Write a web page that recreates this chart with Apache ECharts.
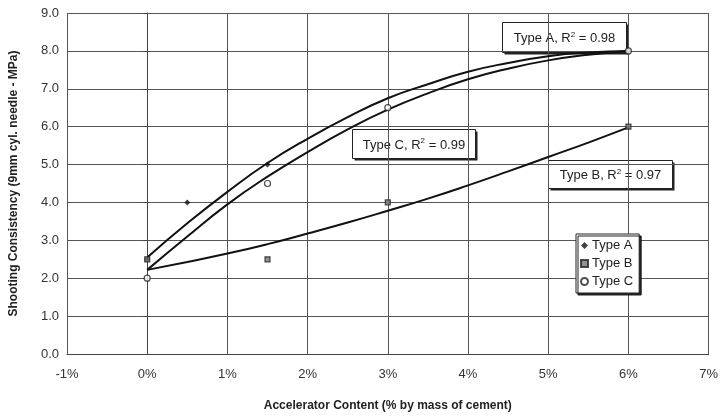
<!DOCTYPE html>
<html>
<head>
<meta charset="utf-8">
<script src="https://cdn.jsdelivr.net/npm/echarts@6/dist/echarts.min.js"></script>
<style>
  html, body { margin: 0; padding: 0; background: #fff; }
  #main { width: 721px; height: 417px; }
</style>
</head>
<body>
<div id="main"></div>
<script>
// measured points (accelerator %, consistency MPa)
var typeA = [[0, 2.5], [0.5, 4.0], [1.5, 5.0], [6, 8.0]];
var typeB = [[0, 2.5], [1.5, 2.5], [3, 4.0], [6, 6.0]];
var typeC = [[0, 2.0], [1.5, 4.5], [3, 6.5], [6, 8.0]];

// trend curves
var trendX = [0, 0.5, 1, 1.5, 2, 2.5, 3, 3.5, 4, 4.5, 5, 5.5, 6];
var trendA = [2.55, 3.45, 4.28, 5.04, 5.68, 6.25, 6.75, 7.12, 7.45, 7.68, 7.86, 7.96, 8.0];
var trendB = [2.22, 2.43, 2.65, 2.9, 3.18, 3.47, 3.78, 4.1, 4.45, 4.82, 5.2, 5.58, 5.98];
var trendC = [2.22, 3.1, 3.95, 4.68, 5.33, 5.93, 6.45, 6.88, 7.25, 7.53, 7.75, 7.9, 8.0];

var xTicks = [-1, 0, 1, 2, 3, 4, 5, 6, 7];
var yTicks = [0, 1, 2, 3, 4, 5, 6, 7, 8, 9];

function pairs(xs, ys) {
    return xs.map(function (x, i) { return [x, ys[i]]; });
}

var font = 'Liberation Sans, Arial, sans-serif';

function noteBox(x, y, w, h, label) {
    return {
        type: 'group',
        left: x,
        top: y,
        children: [{
            type: 'rect',
            shape: { x: 2, y: 2, width: w, height: h },
            style: { fill: '#222' }
        }, {
            type: 'rect',
            shape: { x: 0, y: 0, width: w, height: h },
            style: { fill: '#fff', stroke: '#222', lineWidth: 1 }
        }, {
            type: 'text',
            x: w / 2,
            y: h / 2 + 1,
            style: {
                rich: { sup: { fontSize: 8, verticalAlign: 'top', padding: [0, 0, 8, 0], fill: '#222', fontFamily: font } },
                text: label,
                fontSize: 13,
                fontFamily: font,
                fill: '#222',
                align: 'center',
                verticalAlign: 'middle'
            }
        }]
    };
}

var lineStyle = { color: '#111', width: 2 };

var option = {
    animation: false,
    backgroundColor: '#fff',
    grid: { left: 67, right: 9, top: 13, bottom: 62 },
    xAxis: {
        type: 'value',
        min: -1,
        max: 7,
        interval: 1,
        name: 'Accelerator Content (% by mass of cement)',
        nameLocation: 'middle',
        nameGap: 46,
        nameTextStyle: { fontFamily: font, fontSize: 12, fontWeight: 'bold', color: '#222' },
        axisLine: { onZero: false, lineStyle: { color: '#444' } },
        axisTick: { show: false },
        axisLabel: {
            fontFamily: font, fontSize: 13, color: '#333', margin: 14,
            formatter: function (v) { return xTicks.indexOf(v) >= 0 ? v + '%' : ''; }
        },
        splitLine: { lineStyle: { color: '#555', width: 1 } }
    },
    yAxis: {
        type: 'value',
        min: 0,
        max: 9,
        interval: 1,
        name: 'Shooting Consistency (9mm cyl. needle - MPa)',
        nameLocation: 'middle',
        nameGap: 47,
        nameTextStyle: { fontFamily: font, fontSize: 12, fontWeight: 'bold', color: '#222' },
        axisLine: { show: true, lineStyle: { color: '#444' } },
        axisTick: { show: true, length: 4, lineStyle: { color: '#444' } },
        axisLabel: {
            fontFamily: font, fontSize: 13, color: '#333', margin: 8,
            formatter: function (v) { return yTicks.indexOf(v) >= 0 ? v.toFixed(1) : ''; }
        },
        splitLine: { lineStyle: { color: '#555', width: 1 } }
    },
    legend: {
        orient: 'vertical',
        left: 576,
        top: 234,
        padding: [5, 6, 5, 4],
        itemGap: 5,
        itemWidth: 7,
        itemHeight: 14,
        backgroundColor: '#fff',
        borderColor: '#222',
        borderWidth: 1,
        shadowColor: '#222',
        shadowOffsetX: 2,
        shadowOffsetY: 2,
        textStyle: { fontFamily: font, fontSize: 13, color: '#222', padding: [0, 0, 0, -1] },
        data: [
            { name: 'Type A', itemStyle: { color: '#111' }, icon: 'path://M0,4 L4,0 L8,4 L4,8 Z' },
            { name: 'Type B', icon: 'path://M0,0 L8,0 L8,8 L0,8 Z' },
            { name: 'Type C', icon: 'circle' }
        ]
    },
    graphic: [
        noteBox(502, 22, 124, 30, 'Type A, R{sup|2} = 0.98'),
        noteBox(352, 129, 123, 29, 'Type C, R{sup|2} = 0.99'),
        noteBox(548, 160, 124, 28, 'Type B, R{sup|2} = 0.97')
    ],
    series: [{
        name: 'trend A',
        type: 'line',
        smooth: true,
        showSymbol: false,
        silent: true,
        lineStyle: lineStyle,
        data: pairs(trendX, trendA),
        z: 2
    }, {
        name: 'trend B',
        type: 'line',
        smooth: true,
        showSymbol: false,
        silent: true,
        lineStyle: lineStyle,
        data: pairs(trendX, trendB),
        z: 2
    }, {
        name: 'trend C',
        type: 'line',
        smooth: true,
        showSymbol: false,
        silent: true,
        lineStyle: lineStyle,
        data: pairs(trendX, trendC),
        z: 2
    }, {
        name: 'Type A',
        type: 'scatter',
        symbol: 'diamond',
        symbolSize: 6,
        itemStyle: { color: '#111' },
        data: typeA,
        z: 3
    }, {
        name: 'Type B',
        type: 'scatter',
        symbol: 'rect',
        symbolSize: 5,
        itemStyle: { color: '#777', borderColor: '#222', borderWidth: 1.2 },
        data: typeB,
        z: 4
    }, {
        name: 'Type C',
        type: 'scatter',
        symbol: 'circle',
        symbolSize: 6,
        itemStyle: { color: '#fff', borderColor: '#222', borderWidth: 1.2 },
        data: typeC,
        z: 5
    }]
};

var myChart = echarts.init(document.getElementById('main'));
myChart.setOption(option);
</script>
</body>
</html>
